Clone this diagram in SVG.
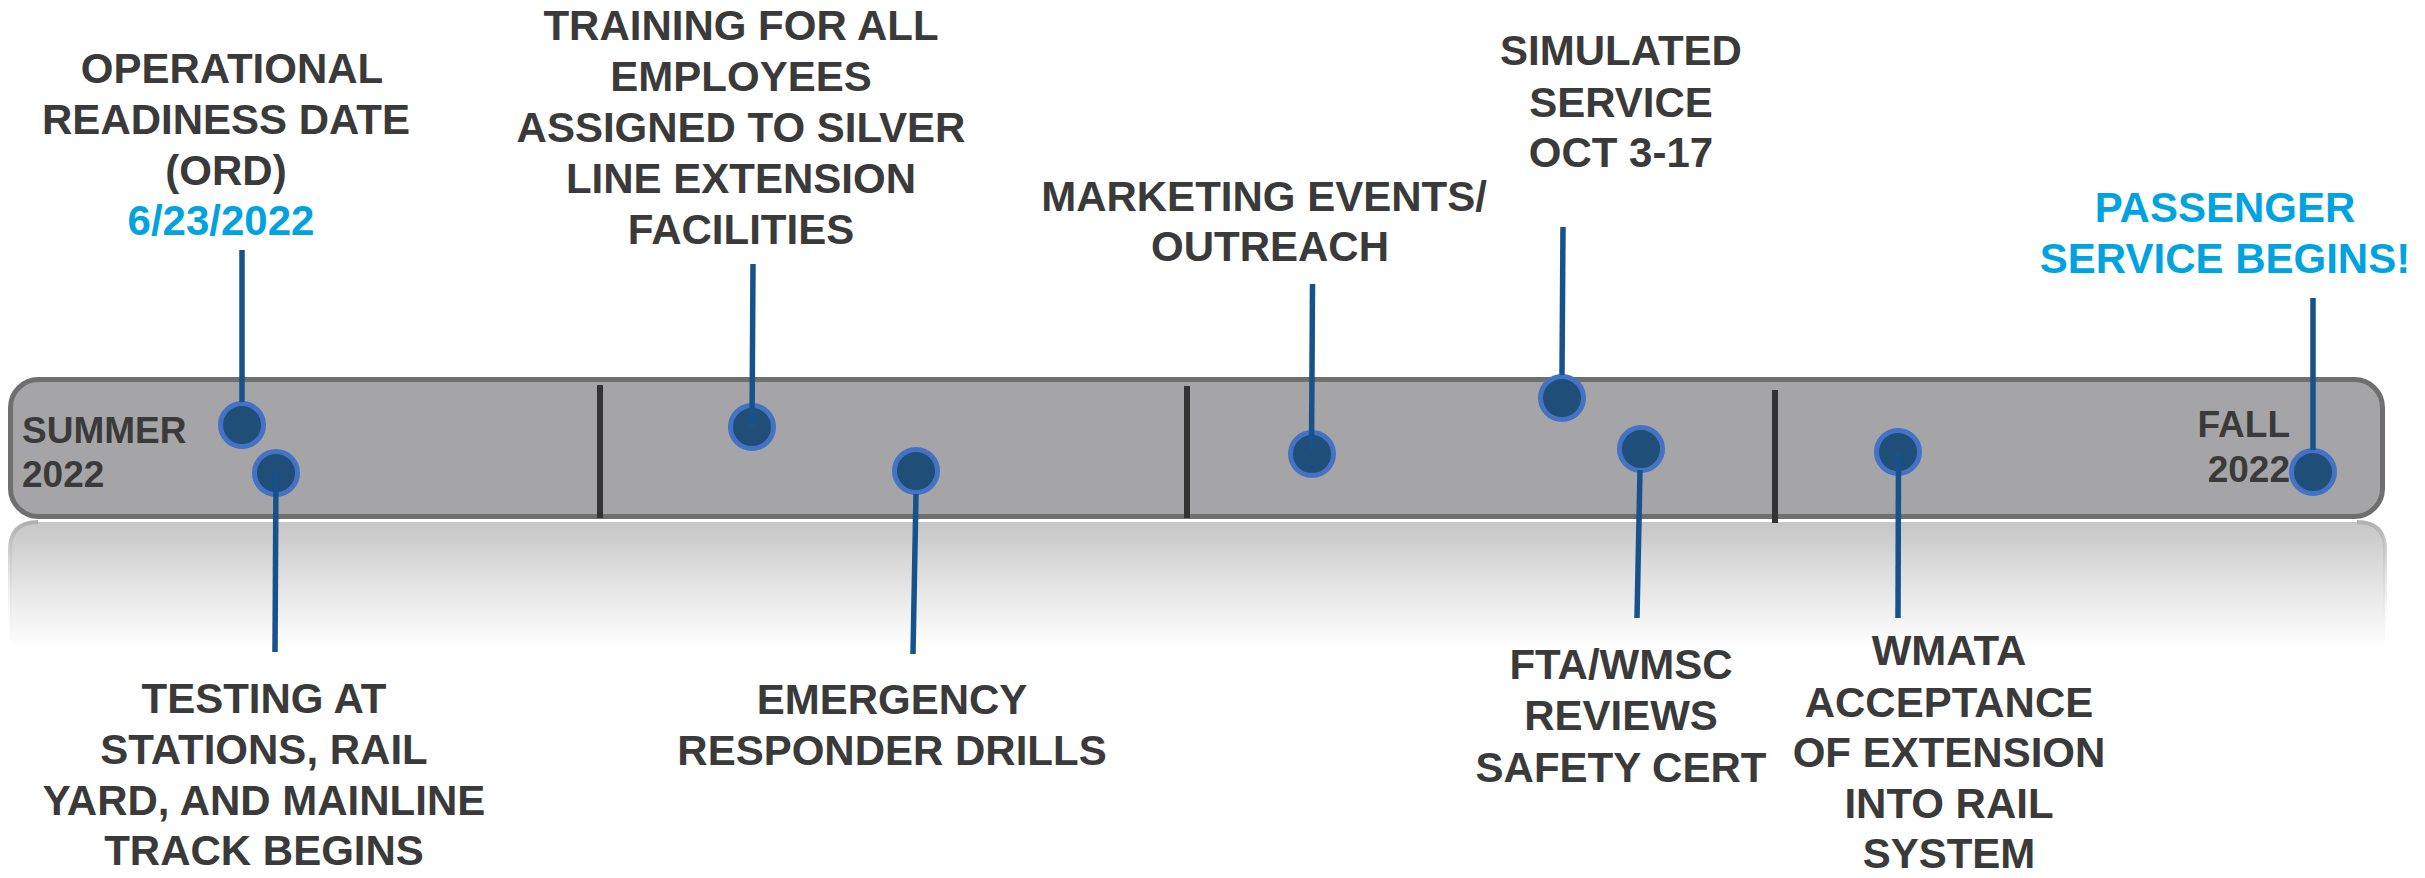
<svg xmlns="http://www.w3.org/2000/svg" width="2425" height="878" viewBox="0 0 2425 878">
<defs>
<linearGradient id="refl" x1="0" y1="0" x2="0" y2="1">
<stop offset="0" stop-color="#c6c6c6"/>
<stop offset="0.5" stop-color="#e4e4e4"/>
<stop offset="1" stop-color="#ffffff"/>
</linearGradient>
<linearGradient id="reflEdge" x1="0" y1="0" x2="0" y2="1">
<stop offset="0" stop-color="#b0b0b0"/>
<stop offset="1" stop-color="#ffffff" stop-opacity="0"/>
</linearGradient>
</defs>
<style>
text{font-family:"Liberation Sans",Arial,sans-serif;font-weight:bold;font-size:42px;fill:#3a3a3a;text-anchor:middle}
.blue{fill:#00a3e0}
.season{font-size:37px;text-anchor:start}
.seasonR{font-size:37px;text-anchor:end}
.dot{fill:#1f4e79;stroke:#4472c4;stroke-width:5}
.conn{stroke:#17528c;stroke-width:5.5;fill:none}
.div{stroke:#333333;stroke-width:6}
</style>
<rect width="2425" height="878" fill="#ffffff"/>
<g id="timeline-bar">
<path d="M10,648 L10,550 Q10,522 38,522 L2357,522 Q2385,522 2385,550 L2385,648 Z" fill="url(#refl)"/>
<path d="M10,648 L10,550 Q10,522 38,522 M2357,522 Q2385,522 2385,550 L2385,648" fill="none" stroke="url(#reflEdge)" stroke-width="4"/>
<rect x="10.5" y="379.5" width="2372" height="137" rx="28" ry="28" fill="#a5a5a7" stroke="#6f6f6f" stroke-width="5"/>
<line class="div" x1="600" y1="385" x2="600" y2="518"/>
<line class="div" x1="1187" y1="386" x2="1187" y2="518"/>
<line class="div" x1="1775" y1="390" x2="1775" y2="523"/>
<text class="season" x="22" y="443">SUMMER</text>
<text class="season" x="22" y="487">2022</text>
<text class="seasonR" x="2290" y="437">FALL</text>
<text class="seasonR" x="2290" y="482">2022</text>
</g>
<g id="node-ord">
<circle class="dot" cx="242" cy="425" r="21.5"/>
<text x="232" y="83">OPERATIONAL</text>
<text x="226" y="134">READINESS DATE</text>
<text x="226" y="185">(ORD)</text>
<text class="blue" x="221" y="235">6/23/2022</text>
</g>
<g id="node-testing">
<circle class="dot" cx="276" cy="473" r="21.5"/>
<text x="264" y="713">TESTING AT</text>
<text x="264" y="764">STATIONS, RAIL</text>
<text x="264" y="815">YARD, AND MAINLINE</text>
<text x="264" y="865">TRACK BEGINS</text>
</g>
<g id="node-training">
<circle class="dot" cx="752" cy="427" r="21.5"/>
<text x="741" y="40">TRAINING FOR ALL</text>
<text x="741" y="91">EMPLOYEES</text>
<text x="741" y="142">ASSIGNED TO SILVER</text>
<text x="741" y="193">LINE EXTENSION</text>
<text x="741" y="244">FACILITIES</text>
</g>
<g id="node-emergency">
<circle class="dot" cx="916" cy="471" r="21.5"/>
<text x="892" y="714">EMERGENCY</text>
<text x="892" y="765">RESPONDER DRILLS</text>
</g>
<g id="node-marketing">
<circle class="dot" cx="1312" cy="454" r="21.5"/>
<text x="1264" y="211">MARKETING EVENTS/</text>
<text x="1270" y="261">OUTREACH</text>
</g>
<g id="node-simulated">
<circle class="dot" cx="1562" cy="398" r="21.5"/>
<text x="1621" y="65">SIMULATED</text>
<text x="1621" y="117">SERVICE</text>
<text x="1621" y="167">OCT 3-17</text>
</g>
<g id="node-fta">
<circle class="dot" cx="1641" cy="449" r="21.5"/>
<text x="1621" y="679">FTA/WMSC</text>
<text x="1621" y="730">REVIEWS</text>
<text x="1621" y="782">SAFETY CERT</text>
</g>
<g id="node-wmata">
<circle class="dot" cx="1898" cy="452" r="21.5"/>
<text x="1949" y="665">WMATA</text>
<text x="1949" y="717">ACCEPTANCE</text>
<text x="1949" y="767">OF EXTENSION</text>
<text x="1949" y="818">INTO RAIL</text>
<text x="1949" y="868">SYSTEM</text>
</g>
<g id="node-passenger">
<circle class="dot" cx="2313" cy="472" r="21.5"/>
<text class="blue" x="2225" y="222">PASSENGER</text>
<text class="blue" x="2225" y="273">SERVICE BEGINS!</text>
</g>
<g id="connectors">
<line class="conn" x1="242" y1="250" x2="242" y2="402"/>
<line class="conn" x1="276" y1="473" x2="275" y2="652"/>
<line class="conn" x1="753" y1="264" x2="752" y2="427"/>
<line class="conn" x1="916" y1="494" x2="913" y2="654"/>
<line class="conn" x1="1312.5" y1="284" x2="1311.5" y2="450"/>
<line class="conn" x1="1563" y1="227" x2="1562" y2="375"/>
<line class="conn" x1="1640" y1="470" x2="1637" y2="618"/>
<line class="conn" x1="1898.5" y1="452" x2="1898" y2="618"/>
<line class="conn" x1="2313" y1="298" x2="2313" y2="450"/>
</g>
</svg>
